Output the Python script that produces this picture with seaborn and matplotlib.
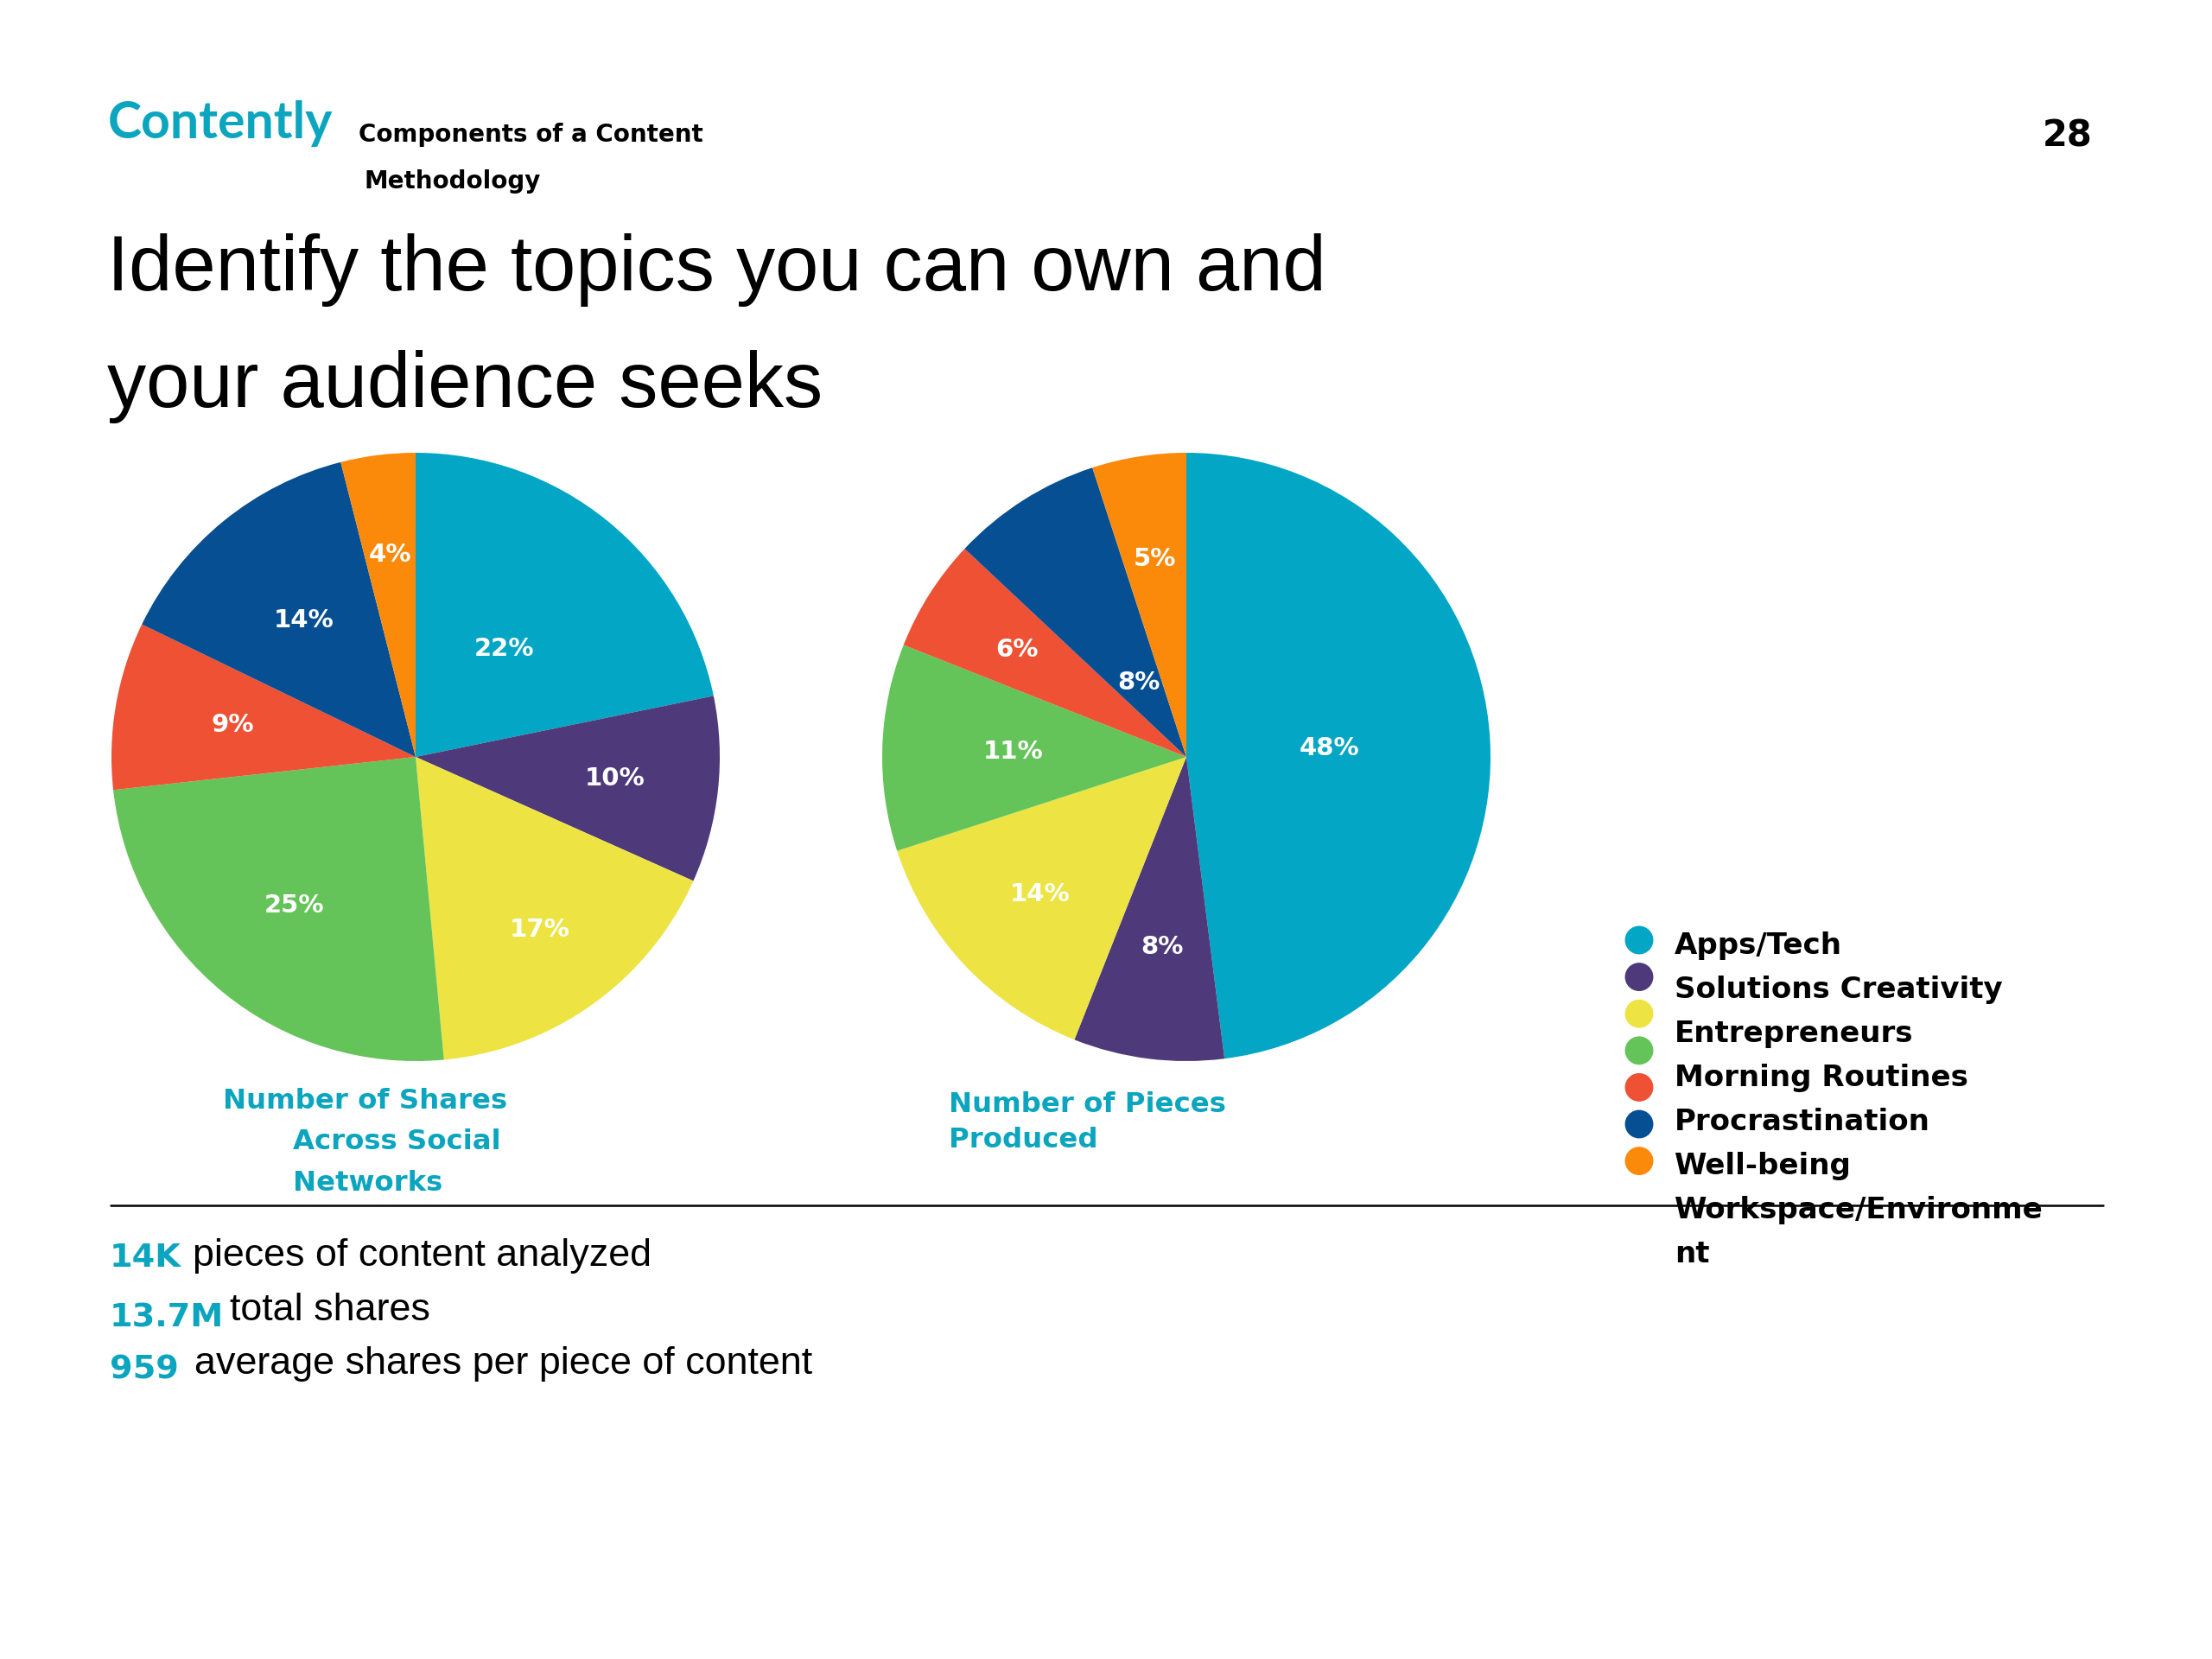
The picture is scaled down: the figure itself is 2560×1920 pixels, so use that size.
import matplotlib
matplotlib.use("Agg")
import matplotlib.pyplot as plt
import seaborn as sns
import numpy as np

# ---------------- data ----------------
categories = ["Apps/Tech", "Solutions Creativity", "Entrepreneurs", "Morning Routines",
              "Procrastination", "Well-being", "Workspace/Environment"]
shares_pct = [22, 10, 17, 25, 9, 14, 4]
pieces_pct = [48, 8, 14, 11, 6, 8, 5]
hex_colors = ["#03A6C4", "#4E3A7A", "#EDE443", "#64C459", "#EE5134", "#074F93", "#FB8A0A"]

title_lines = ["Identify the topics you can own and", "your audience seeks"]
caption_shares = ["Number of Shares", "Across Social", "Networks"]
caption_pieces = ["Number of Pieces", "Produced"]
stat_values = ["14K", "13.7M", "959"]
stat_texts = ["pieces of content analyzed", "total shares", "average shares per piece of content"]
page_number = "28"
header_lines = ["Components of a Content", "Methodology"]
brand = "Contently"

# ---------------- style ----------------
sns.set_theme(style="white")
plt.rcParams["font.family"] = ["DejaVu Sans"]
plt.rcParams["text.color"] = "black"
palette = sns.color_palette(hex_colors)
TEAL = "#0BA5BF"
BOLD = "DejaVu Sans"
SANS = "Liberation Sans"

W, H = 2560, 1920
fig = plt.figure(figsize=(W / 100, H / 100), dpi=100)
fig.patch.set_facecolor("white")

# label radial distance (fraction of radius) per slice
label_r_shares = [0.46, 0.66, 0.70, 0.63, 0.61, 0.58, 0.67]
label_r_pieces = [0.47, 0.63, 0.66, 0.57, 0.66, 0.29, 0.66]


def pie_axes(cx, cy, r):
    return fig.add_axes([(cx - r) / W, 1 - (cy + r) / H, 2 * r / W, 2 * r / H])


def draw_pie(ax, values, label_r):
    wedges, _ = ax.pie(values, colors=palette, startangle=90, counterclock=False,
                       wedgeprops=dict(linewidth=0), radius=1)
    for w, v, rr in zip(wedges, values, label_r):
        ang = np.deg2rad((w.theta1 + w.theta2) / 2)
        ax.text(rr * np.cos(ang), rr * np.sin(ang), f"{v}%", ha="center", va="center",
                color="white", fontsize=21, fontweight="bold", family=BOLD)
    ax.set_xlim(-1, 1)
    ax.set_ylim(-1, 1)
    ax.set_aspect("equal")
    ax.axis("off")


ax1 = pie_axes(481, 876, 352)
draw_pie(ax1, shares_pct, label_r_shares)
ax2 = pie_axes(1373, 876, 352)
draw_pie(ax2, pieces_pct, label_r_pieces)

# overlay axes in pixel coordinates
ov = fig.add_axes([0, 0, 1, 1], zorder=5)
ov.set_xlim(0, W)
ov.set_ylim(H, 0)
ov.axis("off")
ov.patch.set_alpha(0)

# header
ov.text(125, 160, brand, color=TEAL, fontsize=42.5, fontweight="bold", family="Lato",
        va="baseline", ha="left")
ov.text(415, 164, header_lines[0], fontsize=20, fontweight="bold", family=BOLD, va="baseline")
ov.text(421, 218, header_lines[1], fontsize=20, fontweight="bold", family=BOLD, va="baseline")
ov.text(2422, 169, page_number, fontsize=30, fontweight="bold", family=BOLD, va="baseline", ha="right")

# title
ov.text(124, 336, title_lines[0], fontsize=65, family=SANS, va="baseline")
ov.text(124, 471, title_lines[1], fontsize=65, family=SANS, va="baseline")

# captions
cap_kw = dict(color=TEAL, fontsize=23.3, fontweight="bold", family=BOLD, va="baseline")
ov.text(258, 1283, caption_shares[0], **cap_kw)
ov.text(339, 1330, caption_shares[1], **cap_kw)
ov.text(339, 1378, caption_shares[2], **cap_kw)
ov.text(1098, 1287, caption_pieces[0], **cap_kw)
ov.text(1098, 1328, caption_pieces[1], **cap_kw)

# separator line
ov.plot([128, 2434], [1395, 1395], color="black", lw=1.8)

# stats
stat_y_val = [1466, 1535, 1595]
stat_y_txt = [1465, 1528, 1590]
stat_x_txt = [223, 266, 225]
for v, t, yv, yt, xt in zip(stat_values, stat_texts, stat_y_val, stat_y_txt, stat_x_txt):
    ov.text(127, yv, v, color=TEAL, fontsize=27.5, fontweight="bold", family=BOLD, va="baseline")
    ov.text(xt, yt, t, color="black", fontsize=32.3, family=SANS, va="baseline")

# legend (markers and labels drawn with their own spacing, long label wrapped)
mark_y0, mark_dy = 1088, 42.6
text_y0, text_dy = 1104, 51
ov.scatter([1897] * len(hex_colors), [mark_y0 + i * mark_dy for i in range(len(hex_colors))],
           s=560, c=hex_colors, linewidths=0)
MAXC = 20
row = 0
for lab in categories:
    parts = [lab] if len(lab) <= MAXC else [lab[:MAXC - 1], lab[MAXC - 1:]]
    for p in parts:
        ov.text(1938, text_y0 + row * text_dy, p, fontsize=24.5, fontweight="bold", family=BOLD,
                va="baseline")
        row += 1

fig.savefig("out.png", dpi=100, facecolor="white")
